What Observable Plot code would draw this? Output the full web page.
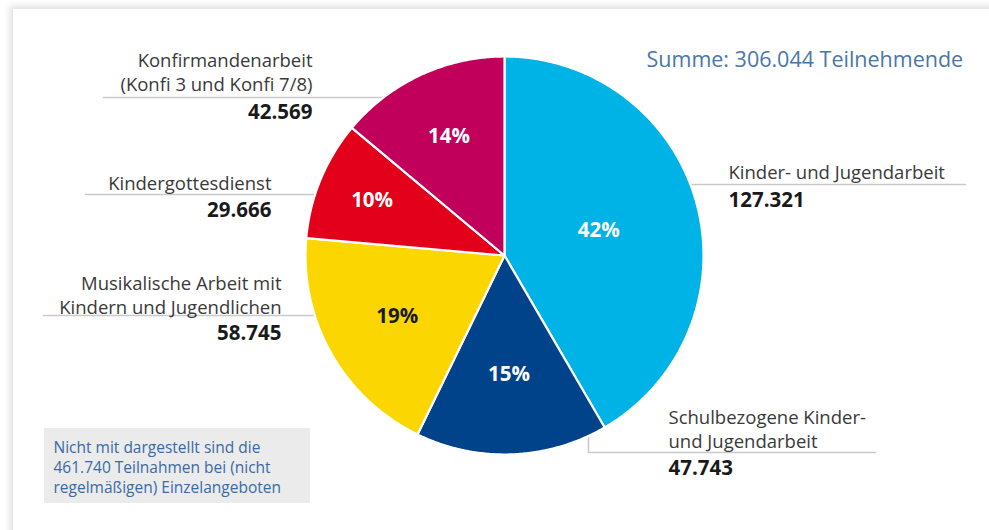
<!DOCTYPE html>
<html>
<head>
<meta charset="utf-8">
<script src="https://cdn.jsdelivr.net/npm/d3@7"></script>
<script src="https://cdn.jsdelivr.net/npm/@observablehq/plot@0.6"></script>
<style>
  html, body { margin: 0; padding: 0; background: #fff; }
  body { width: 989px; height: 530px; overflow: hidden; position: relative; font-family: "Open Sans", sans-serif; }
  #card { position: absolute; left: 13px; top: 9px; width: 990px; height: 540px; background: #fff;
          box-shadow: -3px -3px 7px rgba(0,0,0,0.13); }
  #chart { position: absolute; left: 0; top: 0; }
</style>
</head>
<body>
<div id="card"></div>
<div id="chart"></div>
<script>
// ---- data ----
const categories = [
  "Kinder- und Jugendarbeit",
  "Schulbezogene Kinder- und Jugendarbeit",
  "Musikalische Arbeit mit Kindern und Jugendlichen",
  "Kindergottesdienst",
  "Konfirmandenarbeit (Konfi 3 und Konfi 7/8)"
];
const values = [127321, 47743, 58745, 29666, 42569];
const percentLabels = ["42%", "15%", "19%", "10%", "14%"];
const valueLabels = ["127.321", "47.743", "58.745", "29.666", "42.569"];
const nameLines = [
  "Kinder- und Jugendarbeit",
  "Schulbezogene Kinder-\nund Jugendarbeit",
  "Musikalische Arbeit mit\nKindern und Jugendlichen",
  "Kindergottesdienst",
  "Konfirmandenarbeit\n(Konfi 3 und Konfi 7/8)"
];
const colors = ["#00b3e6", "#00438b", "#fcd600", "#e2001a", "#c0005a"];
const totalLabel = "Summe: 306.044 Teilnehmende";
const noteText = "Nicht mit dargestellt sind die\n461.740 Teilnahmen bei (nicht\nregelmäßigen) Einzelangeboten";

// ---- layout (positions, not data) ----
const W = 989, H = 530;
const cx = 504, cy = 255, R = 199;
const pctRadius = [0.49, 0.60, 0.62, 0.72, 0.66];
const pctColors = ["#fff", "#fff", "#1a1a1a", "#fff", "#fff"];
const labelLayout = [
  {x: 728, anchor: "start", nameY: 171, valueY: 200, leader: [[cx, 184], [965, 184]]},
  {x: 668, anchor: "start", nameY: 428, valueY: 468, leader: [[588, 400], [588, 452], [875, 452]]},
  {x: 281, anchor: "end", nameY: 294, valueY: 333, leader: [[43, 315], [cx, 315]]},
  {x: 271, anchor: "end", nameY: 182, valueY: 210, leader: [[85, 194], [cx, 194]]},
  {x: 312, anchor: "end", nameY: 71, valueY: 112, leader: [[103, 97], [cx, 97]]}
];

// ---- pie geometry ----
const arcs = d3.pie().sort(null).value(d => d)(values);
const pt = (a, r) => [cx + r * Math.sin(a), cy - r * Math.cos(a)];
const slicePts = [];
arcs.forEach((a, i) => {
  const c = categories[i];
  slicePts.push({c, x: cx, y: cy});
  const n = Math.max(4, Math.ceil((a.endAngle - a.startAngle) / (Math.PI / 360)));
  for (let k = 0; k <= n; k++) {
    const ang = a.startAngle + (a.endAngle - a.startAngle) * k / n;
    const [x, y] = pt(ang, R);
    slicePts.push({c, x, y});
  }
  slicePts.push({c, x: cx, y: cy});
});
const pctData = arcs.map((a, i) => {
  const mid = (a.startAngle + a.endAngle) / 2;
  const [x, y] = pt(mid, R * pctRadius[i]);
  return {x, y, t: percentLabels[i], fill: pctColors[i]};
});
const leaderPts = labelLayout.flatMap((l, i) => l.leader.map(([x, y]) => ({x, y, i})));
const nameData = labelLayout.map((l, i) => ({...l, t: nameLines[i]}));
const valueData = labelLayout.map((l, i) => ({...l, t: valueLabels[i]}));
const isStart = d => d.anchor === "start";
const isEnd = d => d.anchor === "end";

const nameOpts = {x: "x", y: "nameY", text: "t", fill: "#3a3a3a", fontSize: 18.5, fontFamily: "Open Sans", lineHeight: 1.3};
const valueOpts = {x: "x", y: "valueY", text: "t", fill: "#1a1a1a", fontSize: 20.5, fontWeight: 700, fontFamily: "Open Sans"};

const chart = Plot.plot({
  width: W, height: H,
  margin: 0,
  style: {background: "transparent", overflow: "visible"},
  x: {domain: [0, W], range: [0, W], axis: null},
  y: {domain: [0, H], range: [0, H], axis: null},
  color: {domain: categories, range: colors},
  marks: [
    Plot.line(leaderPts, {x: "x", y: "y", z: "i", stroke: "#c9c9c9", strokeWidth: 1.6}),
    Plot.line(slicePts, {x: "x", y: "y", z: "c", fill: "c", stroke: "#fff", strokeWidth: 2.2, strokeLinejoin: "round"}),
    Plot.text(pctData, {x: "x", y: "y", text: "t", fill: "fill", fontSize: 20.5, fontWeight: 700, fontFamily: "Open Sans"}),
    Plot.text(nameData, {...nameOpts, filter: isStart, textAnchor: "start"}),
    Plot.text(nameData, {...nameOpts, filter: isEnd, textAnchor: "end"}),
    Plot.text(valueData, {...valueOpts, filter: isStart, textAnchor: "start"}),
    Plot.text(valueData, {...valueOpts, filter: isEnd, textAnchor: "end"}),
    Plot.text([totalLabel], {x: () => 646, y: () => 60, text: d => d, textAnchor: "start", fill: "#4a76a8",
      fontSize: 21.5, fontFamily: "Open Sans"}),
    Plot.rect([0], {x1: () => 44, x2: () => 310, y1: () => 428, y2: () => 503, fill: "#ebebeb"}),
    Plot.text([noteText], {x: () => 53, y: () => 466, text: d => d, textAnchor: "start", fill: "#3a6aa5",
      fontSize: 15.5, fontFamily: "Open Sans", lineHeight: 1.29})
  ]
});
document.getElementById("chart").appendChild(chart);
</script>
</body>
</html>
